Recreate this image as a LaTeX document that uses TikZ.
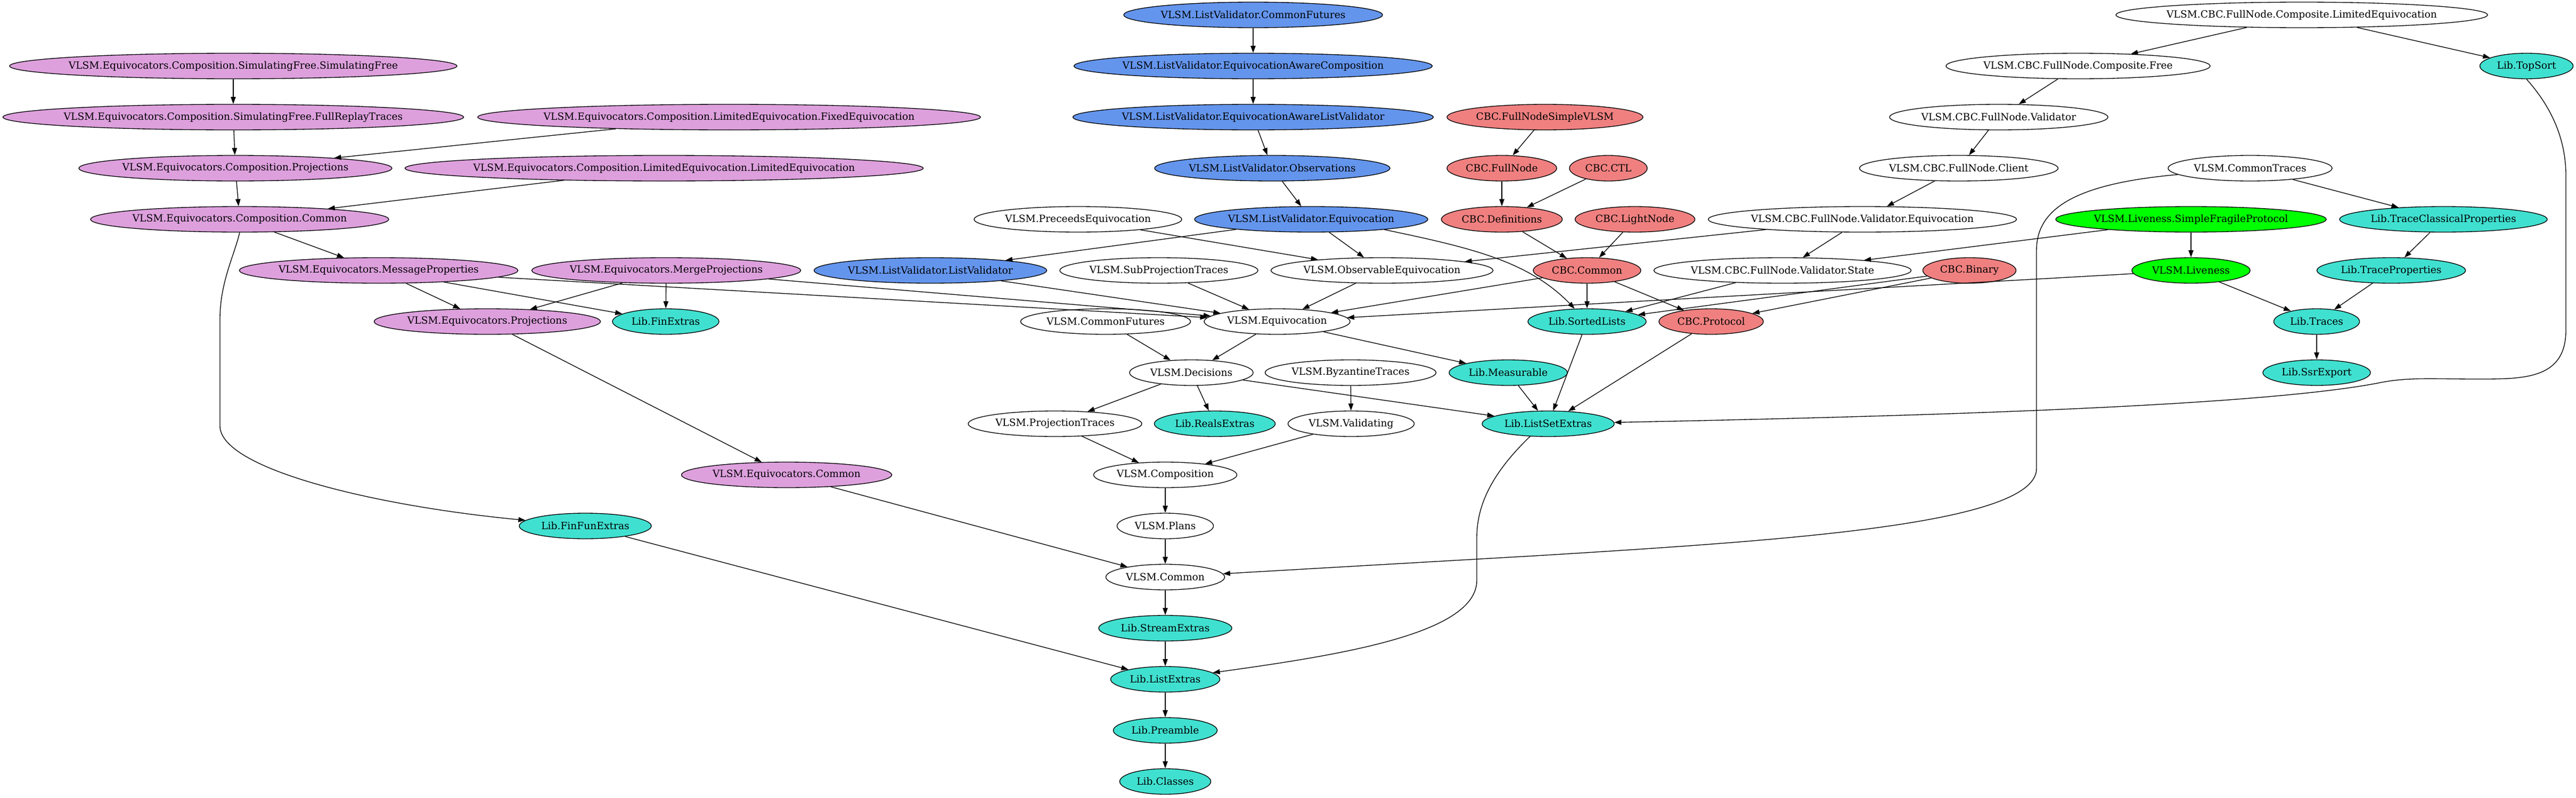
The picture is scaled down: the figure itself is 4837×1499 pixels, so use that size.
\documentclass[tikz,border=0pt]{standalone}
\usepackage{fontspec}
\setmainfont{DejaVu Serif}
\usetikzlibrary{shapes.geometric,arrows.meta}
\definecolor{plum}{HTML}{DDA0DD}
\definecolor{cornflower}{HTML}{6495ED}
\definecolor{lcoral}{HTML}{F08080}
\definecolor{turq}{HTML}{40E0D0}
\begin{document}
\begin{tikzpicture}[x=0.75pt,y=-0.75pt,line width=1pt,>={Triangle[length=10pt,width=7pt]}]
		\tikzstyle{mod} = [ellipse, draw=black, fill=white, text=black, minimum height=36pt, inner sep=0pt, font=\fontsize{14}{16}\selectfont, execute at begin node={\hbox to 0pt\bgroup\hss}, execute at end node={\hss\egroup}]
		\tikzstyle{equiv mod} = [mod, fill=plum]
		\tikzstyle{lv mod} = [mod, fill=cornflower]
		\tikzstyle{cbc mod} = [mod, fill=lcoral]
		\tikzstyle{lib mod} = [mod, fill=turq]
		\tikzstyle{live mod} = [mod, fill=green]
		\useasboundingbox (0,0) rectangle (4837,1499);
		% rank 0
		\node[lv mod, minimum width=364.5pt] (lvcf) at (2353,28) {VLSM.ListValidator.CommonFutures};
		\node[mod, minimum width=523.5pt] (cfle) at (4322,28) {VLSM.CBC.FullNode.Composite.LimitedEquivocation};
		% rank 1
		\node[equiv mod, minimum width=630pt] (sfsf) at (438,124) {VLSM.Equivocators.Composition.SimulatingFree.SimulatingFree};
		\node[lv mod, minimum width=504.75pt] (eac) at (2353,124) {VLSM.ListValidator.EquivocationAwareComposition};
		\node[mod, minimum width=372pt] (cff) at (3902,124) {VLSM.CBC.FullNode.Composite.Free};
		\node[lib mod, minimum width=131.25pt] (topsort) at (4744,124) {Lib.TopSort};
		% rank 2
		\node[equiv mod, minimum width=648.75pt] (frt) at (438,220) {VLSM.Equivocators.Composition.SimulatingFree.FullReplayTraces};
		\node[equiv mod, minimum width=708pt] (fixeq) at (1369,220) {VLSM.Equivocators.Composition.LimitedEquivocation.FixedEquivocation};
		\node[lv mod, minimum width=507.75pt] (ealv) at (2353,220) {VLSM.ListValidator.EquivocationAwareListValidator};
		\node[cbc mod, minimum width=276pt] (fnsv) at (2901,220) {CBC.FullNodeSimpleVLSM};
		\node[mod, minimum width=307.5pt] (fnval) at (3753,220) {VLSM.CBC.FullNode.Validator};
		% rank 3
		\node[equiv mod, minimum width=441pt] (cproj) at (442,316) {VLSM.Equivocators.Composition.Projections};
		\node[equiv mod, minimum width=729.75pt] (limeq) at (1247,316) {VLSM.Equivocators.Composition.LimitedEquivocation.LimitedEquivocation};
		\node[lv mod, minimum width=331.5pt] (obs) at (2389,316) {VLSM.ListValidator.Observations};
		\node[cbc mod, minimum width=154.5pt] (fullnode) at (2820,316) {CBC.FullNode};
		\node[cbc mod, minimum width=109.5pt] (ctl) at (3020,316) {CBC.CTL};
		\node[mod, minimum width=279.75pt] (client) at (3678,316) {VLSM.CBC.FullNode.Client};
		\node[mod, minimum width=231pt] (ctraces) at (4225,316) {VLSM.CommonTraces};
		% rank 4
		\node[equiv mod, minimum width=420pt] (ccommon) at (450,412) {VLSM.Equivocators.Composition.Common};
		\node[mod, minimum width=292.5pt] (preeq) at (2024,412) {VLSM.PreceedsEquivocation};
		\node[lv mod, minimum width=328.5pt] (lveq) at (2462,412) {VLSM.ListValidator.Equivocation};
		\node[cbc mod, minimum width=170.25pt] (defs) at (2820,412) {CBC.Definitions};
		\node[cbc mod, minimum width=168.75pt] (light) at (3070,412) {CBC.LightNode};
		\node[mod, minimum width=434.25pt] (fnveq) at (3497,412) {VLSM.CBC.FullNode.Validator.Equivocation};
		\node[live mod, minimum width=381pt] (sfp) at (4114,412) {VLSM.Liveness.SimpleFragileProtocol};
		\node[lib mod, minimum width=292.5pt] (tcp) at (4588,412) {Lib.TraceClassicalProperties};
		% rank 5
		\node[equiv mod, minimum width=392.25pt] (msgprop) at (711,508) {VLSM.Equivocators.MessageProperties};
		\node[equiv mod, minimum width=378.75pt] (merge) at (1251,508) {VLSM.Equivocators.MergeProjections};
		\node[lv mod, minimum width=327.75pt] (lvlv) at (1747,508) {VLSM.ListValidator.ListValidator};
		\node[mod, minimum width=279pt] (subproj) at (2176,508) {VLSM.SubProjectionTraces};
		\node[mod, minimum width=312.75pt] (obseq) at (2595,508) {VLSM.ObservableEquivocation};
		\node[cbc mod, minimum width=151.5pt] (cbccommon) at (2980,508) {CBC.Common};
		\node[mod, minimum width=362.25pt] (fnvstate) at (3347,508) {VLSM.CBC.FullNode.Validator.State};
		\node[cbc mod, minimum width=131.25pt] (binary) at (3698,508) {CBC.Binary};
		\node[live mod, minimum width=166.5pt] (liveness) at (4114,508) {VLSM.Liveness};
		\node[lib mod, minimum width=209.25pt] (tprop) at (4490,508) {Lib.TraceProperties};
		% rank 6
		\node[equiv mod, minimum width=318.75pt] (eproj) at (915,604) {VLSM.Equivocators.Projections};
		\node[lib mod, minimum width=150pt] (finextras) at (1250,604) {Lib.FinExtras};
		\node[mod, minimum width=239.25pt] (vcf) at (2076,604) {VLSM.CommonFutures};
		\node[mod, minimum width=205.5pt] (equiv) at (2398,604) {VLSM.Equivocation};
		\node[lib mod, minimum width=166.5pt] (sorted) at (2980,604) {Lib.SortedLists};
		\node[cbc mod, minimum width=147pt] (protocol) at (3213,604) {CBC.Protocol};
		\node[lib mod, minimum width=120.75pt] (traces) at (4350,604) {Lib.Traces};
		% rank 7
		\node[mod, minimum width=174pt] (decisions) at (2237,700) {VLSM.Decisions};
		\node[mod, minimum width=240.75pt] (byz) at (2536,700) {VLSM.ByzantineTraces};
		\node[lib mod, minimum width=166.5pt] (measurable) at (2832,700) {Lib.Measurable};
		\node[lib mod, minimum width=151.5pt] (ssr) at (4350,700) {Lib.SsrExport};
		% rank 8
		\node[mod, minimum width=244.5pt] (projtraces) at (1981,796) {VLSM.ProjectionTraces};
		\node[lib mod, minimum width=170.25pt] (reals) at (2281,796) {Lib.RealsExtras};
		\node[mod, minimum width=177.75pt] (validating) at (2537,796) {VLSM.Validating};
		\node[lib mod, minimum width=186pt] (listset) at (2907,796) {Lib.ListSetExtras};
		% rank 9 and below
		\node[equiv mod, minimum width=296.25pt] (ecommon) at (1477,892) {VLSM.Equivocators.Common};
		\node[mod, minimum width=201.75pt] (composition) at (2188,892) {VLSM.Composition};
		\node[lib mod, minimum width=186pt] (finfun) at (1099,988) {Lib.FinFunExtras};
		\node[mod, minimum width=135.75pt] (plans) at (2188,988) {VLSM.Plans};
		\node[mod, minimum width=167.25pt] (common) at (2188,1084) {VLSM.Common};
		\node[lib mod, minimum width=187.5pt] (stream) at (2188,1180) {Lib.StreamExtras};
		\node[lib mod, minimum width=153.75pt] (listextras) at (2188,1276) {Lib.ListExtras};
		\node[lib mod, minimum width=146.25pt] (preamble) at (2188,1372) {Lib.Preamble};
		\node[lib mod, minimum width=128.25pt] (classes) at (2188,1468) {Lib.Classes};
		% equivocators
		\path [->](sfsf) edge (frt);
		\path [->](frt) edge (cproj);
		\path [->](fixeq) edge (cproj);
		\path [->](cproj) edge (ccommon);
		\path [->](limeq) edge (ccommon);
		\path [->](ccommon) edge (msgprop);
		\draw [->](ccommon.south) .. controls (440,480) and (413,530) .. (413,600) -- (413,800) .. controls (413,880) and (700,950) .. (finfun);
		\path [->](msgprop) edge (eproj);
		\path [->](msgprop) edge (finextras);
		\path [->](msgprop) edge (equiv);
		\path [->](merge) edge (eproj);
		\path [->](merge) edge (finextras);
		\path [->](merge) edge (equiv);
		\path [->](eproj) edge (ecommon);
		\path [->](ecommon) edge (common);
		\path [->](finfun) edge (listextras);
		% list validator
		\path [->](lvcf) edge (eac);
		\path [->](eac) edge (ealv);
		\path [->](ealv) edge (obs);
		\path [->](obs) edge (lveq);
		\path [->](lveq) edge (lvlv);
		\path [->](lveq) edge (obseq);
		\draw [->](lveq.-8) .. controls (2760,465) and (2870,490) .. (sorted);
		\path [->](preeq) edge (obseq);
		\path [->](lvlv) edge (equiv);
		\path [->](subproj) edge (equiv);
		\path [->](obseq) edge (equiv);
		\path [->](cbccommon) edge (equiv);
		\path [->](liveness) edge (equiv);
		% core
		\path [->](vcf) edge (decisions);
		\path [->](equiv) edge (decisions);
		\path [->](equiv) edge (measurable);
		\path [->](decisions) edge (projtraces);
		\path [->](decisions) edge (reals);
		\path [->](decisions) edge (listset);
		\path [->](byz) edge (validating);
		\path [->](projtraces) edge (composition);
		\path [->](validating) edge (composition);
		\path [->](composition) edge (plans);
		\path [->](plans) edge (common);
		\path [->](common) edge (stream);
		\path [->](stream) edge (listextras);
		\path [->](listextras) edge (preamble);
		\path [->](preamble) edge (classes);
		\path [->](measurable) edge (listset);
		\path [->](sorted) edge (listset);
		\path [->](protocol) edge (listset);
		\draw [->](listset.-145) .. controls (2800,890) and (2773,950) .. (2773,1010) -- (2773,1090) .. controls (2773,1190) and (2520,1230) .. (listextras);
		% cbc
		\path [->](fnsv) edge (fullnode);
		\path [->](fullnode) edge (defs);
		\path [->](ctl) edge (defs);
		\path [->](defs) edge (cbccommon);
		\path [->](light) edge (cbccommon);
		\path [->](cbccommon) edge (sorted);
		\path [->](cbccommon) edge (protocol);
		\path [->](binary) edge (sorted);
		\path [->](binary) edge (protocol);
		\path [->](fnveq) edge (obseq);
		\path [->](fnveq) edge (fnvstate);
		\path [->](fnvstate) edge (sorted);
		\path [->](sfp) edge (fnvstate);
		\path [->](sfp) edge (liveness);
		\path [->](liveness) edge (traces);
		\path [->](cfle) edge (cff);
		\path [->](cfle) edge (topsort);
		\path [->](cff) edge (fnval);
		\path [->](fnval) edge (client);
		\path [->](client) edge (fnveq);
		\draw [->](topsort.south) .. controls (4790,200) and (4818,260) .. (4818,330) -- (4818,620) .. controls (4818,712) and (4740,712) .. (4654,712) .. controls (4560,712) and (4520,708) .. (4463,720) .. controls (4250,760) and (3700,780) .. (listset);
		% traces
		\path [->](ctraces) edge (tcp);
		\draw [->](ctraces.-175) .. controls (3900,345) and (3824,390) .. (3824,470) -- (3824,880) .. controls (3824,985) and (3350,1015) .. (2900,1043) -- (common);
		\path [->](tcp) edge (tprop);
		\path [->](tprop) edge (traces);
		\path [->](traces) edge (ssr);
	\end{tikzpicture}
\end{document}
